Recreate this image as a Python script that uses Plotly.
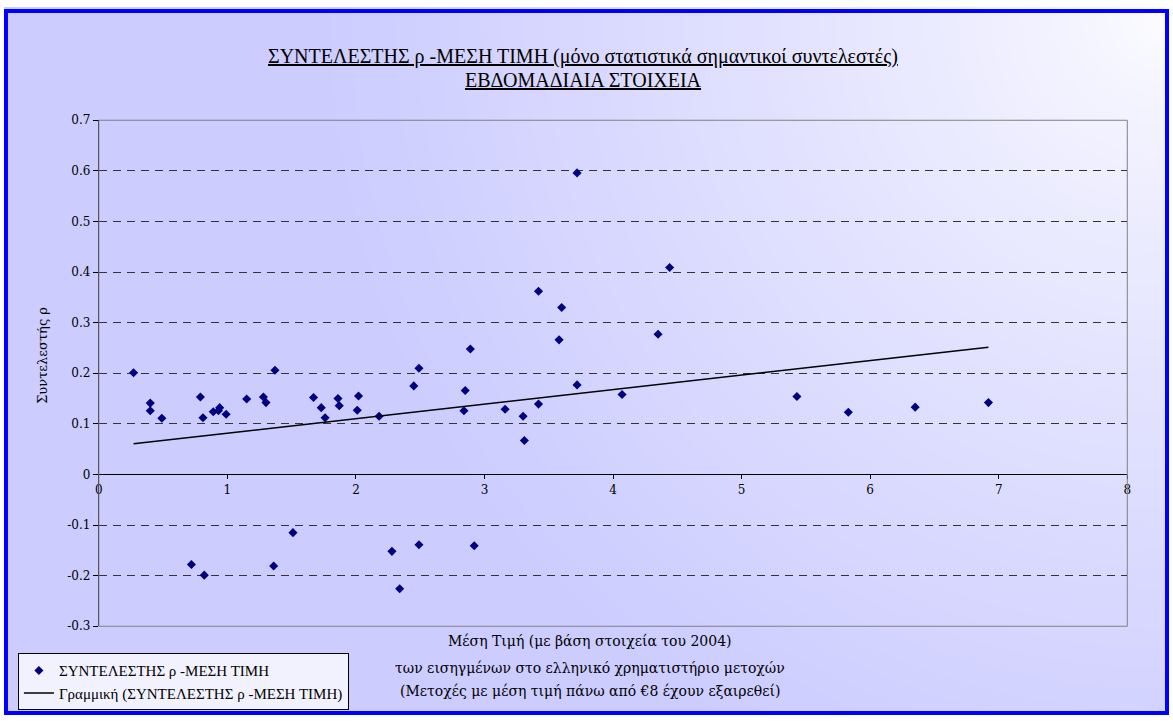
import numpy as np
import plotly.graph_objects as go

# ---- data ----
mean_price = [0.27, 0.40, 0.40, 0.49, 0.79, 0.81, 0.89, 0.93, 0.94, 0.99,
              1.15, 1.28, 1.30, 1.37, 1.67, 1.73, 1.76, 1.86, 1.87, 2.01,
              2.02, 2.18, 2.45, 2.49, 2.85, 2.89, 2.84, 3.16, 3.30, 3.31,
              3.42, 3.58, 3.60, 3.72, 3.72, 3.42, 4.44, 4.35, 4.07, 5.43,
              5.83, 6.35, 6.92,
              0.72, 0.82, 1.36, 1.51, 2.28, 2.34, 2.49, 2.92]
rho = [0.201, 0.141, 0.126, 0.111, 0.153, 0.112, 0.124, 0.126, 0.132, 0.119,
       0.149, 0.153, 0.142, 0.206, 0.152, 0.132, 0.112, 0.150, 0.136, 0.127,
       0.155, 0.115, 0.175, 0.210, 0.166, 0.248, 0.126, 0.129, 0.115, 0.067,
       0.139, 0.266, 0.330, 0.177, 0.596, 0.362, 0.409, 0.277, 0.158, 0.154,
       0.123, 0.133, 0.142,
       -0.178, -0.199, -0.181, -0.115, -0.152, -0.226, -0.139, -0.141]

x_tickvals = [0, 1, 2, 3, 4, 5, 6, 7, 8]
x_ticktext = ["0", "1", "2", "3", "4", "5", "6", "7", "8"]
y_tickvals = [0.7, 0.6, 0.5, 0.4, 0.3, 0.2, 0.1, 0, -0.1, -0.2, -0.3]
y_ticktext = ["0.7", "0.6", "0.5", "0.4", "0.3", "0.2", "0.1", "0", "-0.1", "-0.2", "-0.3"]

series_name = "ΣΥΝΤΕΛΕΣΤΗΣ ρ -ΜΕΣΗ ΤΙΜΗ"
trend_name = "Γραμμική (ΣΥΝΤΕΛΕΣΤΗΣ ρ -ΜΕΣΗ ΤΙΜΗ)"
title_1 = "ΣΥΝΤΕΛΕΣΤΗΣ ρ -ΜΕΣΗ ΤΙΜΗ (μόνο στατιστικά σημαντικοί συντελεστές)"
title_2 = "ΕΒΔΟΜΑΔΙΑΙΑ ΣΤΟΙΧΕΙΑ"
y_title = "Συντελεστής ρ"
x_title_lines = ["Μέση Τιμή (με βάση στοιχεία του 2004)",
                 "των εισηγμένων στο ελληνικό χρηματιστήριο μετοχών",
                 "(Μετοχές με μέση τιμή πάνω από €8 έχουν εξαιρεθεί)"]

# ---- layout geometry (pixels) ----
W, H = 1173, 722
PL, PR, PT, PB = 95.5, 1131.0, 115.5, 631.5
Y0, Y1 = -0.3, 0.7

def fx(px):
    return px / W

def fy(py):
    return 1 - py / H

# linear trend (least squares), like Excel's linear trendline
xa = np.array(mean_price)
ya = np.array(rho)
slope, intercept = np.polyfit(xa, ya, 1)
trend_x = [xa.min(), xa.max()]
trend_y = [intercept + slope * v for v in trend_x]

fig = go.Figure()

# background gradient (white in top-right corner, lavender elsewhere)
gx = np.linspace(7, 1167, 60)
gy = np.linspace(8, 719, 40)
GX, GY = np.meshgrid(gx, gy)
dist = np.sqrt((GX - 1167) ** 2 + (GY - 8) ** 2)
tz = np.clip(dist / 850.0, 0, 1) ** 0.8
fig.add_trace(go.Heatmap(x=gx, y=gy, z=tz, zmin=0, zmax=1, zsmooth="best",
                         colorscale=[[0, "#FCFCFF"], [1, "#CCCCFF"]],
                         showscale=False, hoverinfo="skip", showlegend=False,
                         xaxis="x", yaxis="y"))

fig.add_trace(go.Scatter(x=mean_price, y=rho, mode="markers", name=series_name,
                         marker=dict(symbol="diamond", size=7, color="#000080"),
                         xaxis="x2", yaxis="y2"))
fig.add_trace(go.Scatter(x=trend_x, y=trend_y, mode="lines", name=trend_name,
                         line=dict(color="black", width=1.5),
                         xaxis="x2", yaxis="y2"))

xpos = fy(PB) + (0 - Y0) / (Y1 - Y0) * (fy(PT) - fy(PB))

serif = "Liberation Serif"
tickfont = dict(family="DejaVu Serif", size=12, color="black")

fig.update_layout(
    width=W, height=H,
    margin=dict(l=0, r=0, t=0, b=0),
    paper_bgcolor="white",
    plot_bgcolor="rgba(0,0,0,0)",
    showlegend=True,
    xaxis=dict(domain=[0, 1], range=[0, W], visible=False, fixedrange=True),
    yaxis=dict(domain=[0, 1], range=[H, 0], visible=False, fixedrange=True),
    xaxis2=dict(domain=[fx(PL), fx(PR)], range=[0, 8], anchor="free", position=xpos,
                tickvals=x_tickvals, ticktext=x_ticktext, showgrid=False,
                zeroline=False, showline=True, linecolor="black", linewidth=1,
                ticks="outside", ticklen=4, tickcolor="black", tickfont=tickfont),
    yaxis2=dict(domain=[fy(PB), fy(PT)], range=[Y0, Y1], anchor="x2",
                tickvals=y_tickvals, ticktext=y_ticktext, showgrid=True,
                gridcolor="#333333", griddash="8px,6px", gridwidth=1,
                zeroline=False, showline=True, linecolor="black", linewidth=1,
                ticks="outside", ticklen=5, tickcolor="black", tickfont=tickfont),
    legend=dict(x=fx(14), y=fy(659), xanchor="left", yanchor="top",
                bgcolor="#F2F2FF", bordercolor="black", borderwidth=1,
                font=dict(family=serif, size=15, color="black"),
                itemwidth=30, tracegroupgap=0),
)

# plot area border
fig.add_shape(type="rect", xref="paper", yref="paper",
              x0=fx(PL), x1=fx(PR), y0=fy(PB), y1=fy(PT),
              line=dict(color="#808080", width=1), layer="above")
# outer blue frame
fig.add_shape(type="rect", xref="paper", yref="paper",
              x0=fx(2), x1=fx(1171), y0=fy(720), y1=fy(4),
              line=dict(color="#0000FF", width=4), layer="above")

# titles
fig.add_annotation(text=title_1, x=fx(583), y=fy(50), xref="paper", yref="paper",
                   showarrow=False, xanchor="center", yanchor="middle",
                   font=dict(family=serif, size=20, color="black", lineposition="under"))
fig.add_annotation(text=title_2, x=fx(583), y=fy(74), xref="paper", yref="paper",
                   showarrow=False, xanchor="center", yanchor="middle",
                   font=dict(family=serif, size=20, color="black", lineposition="under"))
fig.add_annotation(text=y_title, x=fx(38), y=fy(355), xref="paper", yref="paper",
                   showarrow=False, textangle=-90, xanchor="center", yanchor="middle",
                   font=dict(family="DejaVu Serif", size=13, color="black"))
for i, (line, py) in enumerate(zip(x_title_lines, [647, 674, 698])):
    fig.add_annotation(text=line, x=fx(590), y=fy(py), xref="paper", yref="paper",
                       showarrow=False, xanchor="center", yanchor="middle",
                       font=dict(family="DejaVu Serif", size=14, color="black"))

fig.write_html("out.html", config={"displayModeBar": False},
               post_script="document.body.style.margin='0';")
